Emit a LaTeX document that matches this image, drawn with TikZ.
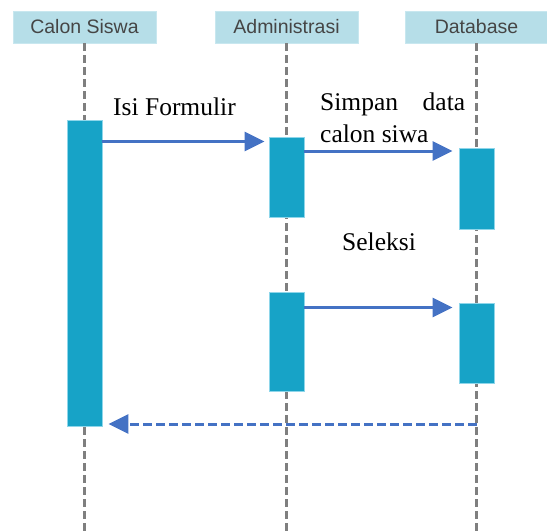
\documentclass[tikz,border=0pt]{standalone}
\usepackage{fontspec}
\setmainfont{Liberation Serif}
\newfontfamily\headfont{Liberation Sans}
\usetikzlibrary{arrows.meta}
\definecolor{headfill}{HTML}{B6DEE8}
\definecolor{headedge}{HTML}{C8E7EF}
\definecolor{headtext}{HTML}{454545}
\definecolor{actfill}{HTML}{17A3C7}
\definecolor{actedge}{HTML}{8ED6EA}
\definecolor{msgblue}{HTML}{4472C4}
\definecolor{lifegray}{HTML}{7F7F7F}
\begin{document}
\begin{tikzpicture}[x=1pt,y=-1pt,
  header/.style={fill=headfill, draw=headedge, line width=0.8pt,
    minimum width=143pt, minimum height=32pt, inner sep=0pt,
    font=\headfont\fontsize{19.5}{22}\selectfont, text=headtext},
  lifeline/.style={draw=lifegray, line width=2.6pt, dash pattern=on 8pt off 4pt},
  activation/.style={fill=actfill, draw=actedge, line width=0.8pt,
    minimum width=35pt, inner sep=0pt, anchor=north},
  msg/.style={draw=msgblue, line width=3pt, -{Triangle[length=20pt,width=19pt]}},
  reply/.style={msg, dash pattern=on 9pt off 4pt},
  msglabel/.style={font=\fontsize{25.5}{32.7}\selectfont, inner sep=0pt, anchor=base west}
]
\useasboundingbox (0,0) rectangle (547,531);

% participants
\node[header] (hC) at (84.5,27) {Calon Siswa};
\node[header] (hA) at (286.5,27) {Administrasi};
\node[header] (hD) at (476.5,27) {Database};

% lifelines
\coordinate (endC) at (84.5,531);
\coordinate (endA) at (286.5,531);
\coordinate (endD) at (476.5,531);
\draw[lifeline] (hC.south) -- (endC);
\draw[lifeline] (hA.south) -- (endA);
\draw[lifeline] (hD.south) -- (endD);

% activation bars
\node[activation, minimum height=306pt] (actC)  at (84.5,120) {};
\node[activation, minimum height=80pt]  (actA1) at (286.5,137) {};
\node[activation, minimum height=81pt]  (actD1) at (476.5,148) {};
\node[activation, minimum height=99pt]  (actA2) at (286.5,292) {};
\node[activation, minimum height=80pt]  (actD2) at (476.5,303) {};

% message levels
\coordinate (m1) at (0,141.5);
\coordinate (m2) at (0,151);
\coordinate (m3) at (0,307.5);
\coordinate (m4) at (0,424);

% messages
\draw[msg, shorten >=4pt] (actC.east |- m1) -- (actA1.west |- m1);
\draw[msg, shorten >=6pt] (actA1.east |- m2) -- (actD1.west |- m2);
\draw[msg, shorten >=6pt] (actA2.east |- m3) -- (actD2.west |- m3);
\draw[reply, shorten >=6pt] (hD.center |- m4) -- (actC.east |- m4);

% message labels (the two-line label sits on its last baseline)
\node[msglabel] (lIsi) at (113,115.7) {Isi Formulir};
\node[msglabel, align=left] (lSimpan) at (320,142.7)
  {\makebox[145pt][s]{Simpan data}\\calon siwa};
\node[msglabel] (lSeleksi) at (342,250) {Seleksi};
\end{tikzpicture}
\end{document}
